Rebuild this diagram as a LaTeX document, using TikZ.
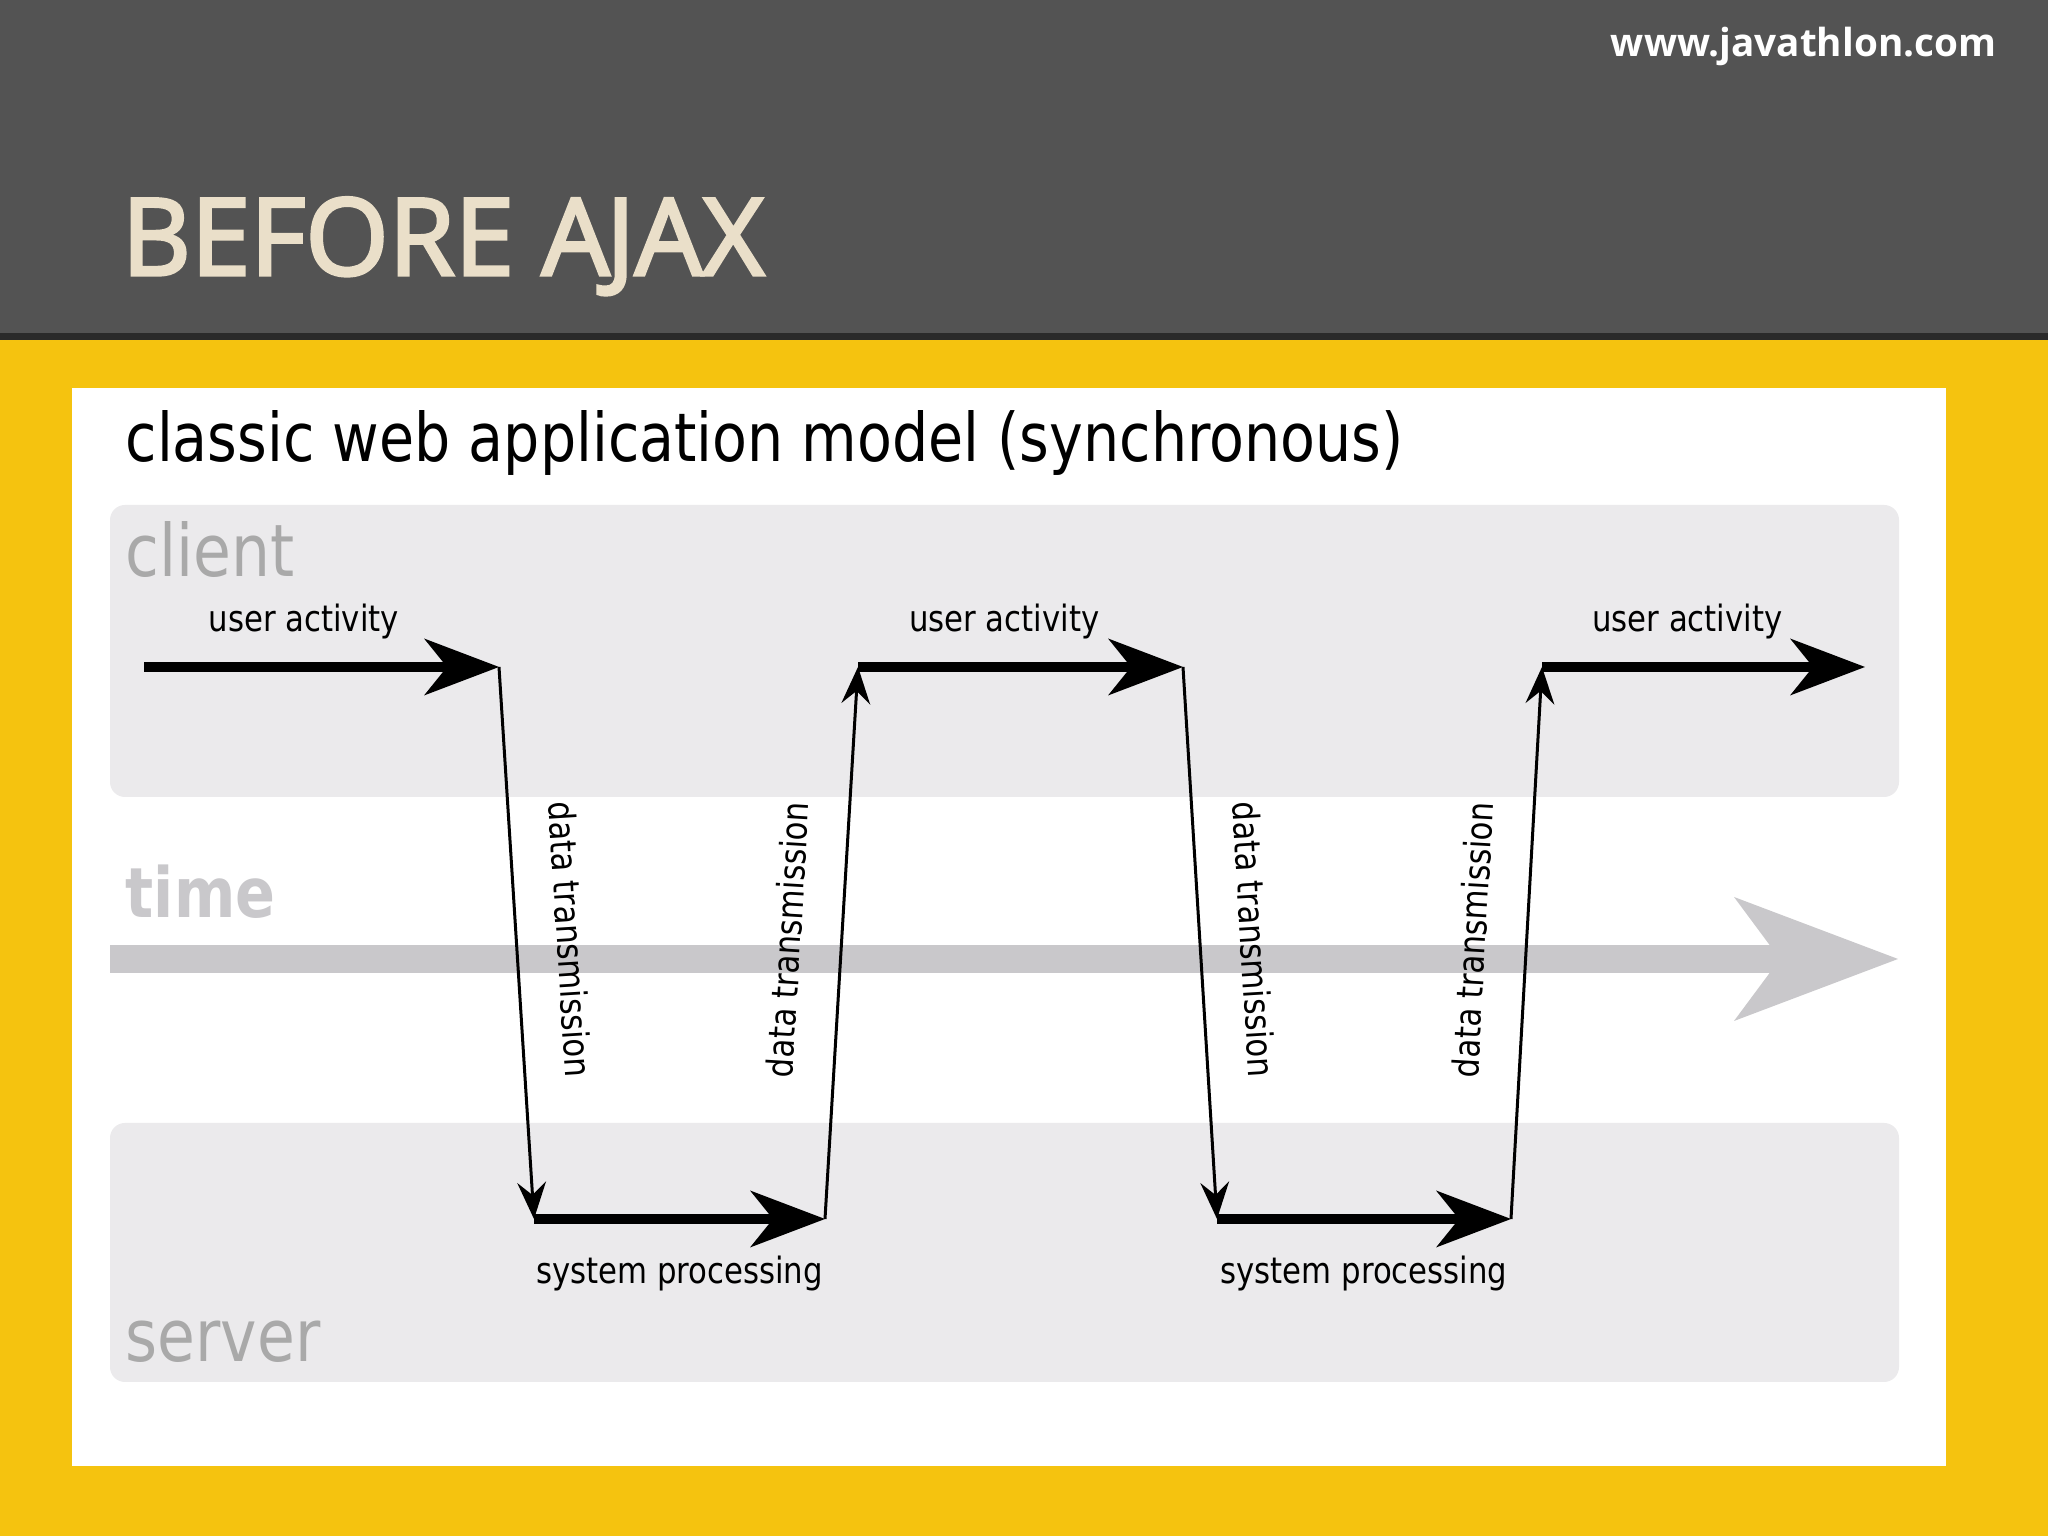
\documentclass[tikz,border=0pt]{standalone}
\usepackage{fontspec}
\setmainfont{Open Sans}
\newfontfamily\headfont[FakeBold=3]{Open Sans}
\newfontfamily\diafont[FakeStretch=0.85]{DejaVu Sans}
\usepackage{tikz}
\usepackage{xcolor}
\usetikzlibrary{arrows.meta}
\usetikzlibrary{positioning}

\definecolor{headgray}{HTML}{535353}
\definecolor{stripe}{HTML}{2A2A2A}
\definecolor{slideyellow}{HTML}{F5C30F}
\definecolor{beige}{HTML}{EADFC9}
\definecolor{boxgray}{HTML}{EBEAEC}
\definecolor{timegray}{HTML}{C9C8CB}
\definecolor{lanegray}{HTML}{A9A9A9}

\tikzset{
  bigarrow/.style={line width=0.1cm,-{Stealth[length=0.75cm,width=0.57cm,inset=0.23cm,line width=0pt]}},
  datarrow/.style={line width=0.03cm,-{Stealth[length=0.37cm,width=0.29cm,inset=0.13cm,line width=0pt]}},
  timearrow/.style={draw=timegray,line width=0.28cm,-{Stealth[length=1.64cm,width=1.24cm,inset=0.46cm,line width=0pt]}},
  small/.style={font=\diafont\fontsize{10.3}{12}\selectfont},
  lane/.style={font=\diafont\fontsize{20.6}{24}\selectfont,text=lanegray,anchor=base west,inner sep=0pt}
}

\begin{document}
\begin{tikzpicture}
\useasboundingbox (0,0) rectangle (20.48,15.36);

\fill[slideyellow] (0,0) rectangle (20.48,15.36);
\fill[headgray] (0,12.03) rectangle (20.48,15.36);
\fill[stripe] (0,11.96) rectangle (20.48,12.03);
\fill[white] (0.72,0.70) rectangle (19.46,11.48);
\fill[boxgray,rounded corners=0.15cm] (1.10,7.39) rectangle (18.99,10.31);
\fill[boxgray,rounded corners=0.15cm] (1.10,1.54) rectangle (18.99,4.13);

\node[anchor=base west,inner sep=0pt,text=beige,font=\headfont\fontsize{30.4}{35}\selectfont] (heading) at (1.21,12.61) {BEFORE A\kern-0.03em JAX};
\node[anchor=base east,inner sep=0pt,text=white,font=\bfseries\fontsize{11.0}{13}\selectfont] (site) at (19.97,14.79) {www.javathlon.com};

\node[anchor=base west,inner sep=0pt,font=\diafont\fontsize{19.1}{22}\selectfont] (model) at (1.25,10.74) {classic web application model (synchronous)};
\node[lane] (client) at (1.25,9.59) {client};
\node[lane] (server) at (1.25,1.74) {server};
\node[lane,text=timegray,font=\diafont\bfseries\fontsize{19.7}{23}\selectfont] (time) at (1.25,6.18) {time};

\coordinate (t0) at (1.10,5.77);
\coordinate (t1) at (18.98,5.77);
\draw[timearrow] (t0) -- (t1);

\coordinate (ua1s) at (1.44,8.69);
\coordinate (ua1e) at (4.99,8.69);
\coordinate (sp1s) at (5.34,3.17);
\coordinate (sp1e) at (8.25,3.17);
\coordinate (ua2s) at (8.58,8.69);
\coordinate (ua2e) at (11.83,8.69);
\coordinate (sp2s) at (12.17,3.17);
\coordinate (sp2e) at (15.11,3.17);
\coordinate (ua3s) at (15.42,8.69);
\coordinate (ua3e) at (18.65,8.69);

\foreach \a/\b in {ua1s/ua1e,ua2s/ua2e,ua3s/ua3e}
{
	\draw[bigarrow] (\a) -- node[pos=0.45,above=0.11cm,small] {user activity} (\b);
}
\foreach \a/\b in {sp1s/sp1e,sp2s/sp2e}
{
	\draw[bigarrow] (\a) -- node[midway,below=0.2cm,small] {system processing} (\b);
}
\foreach \a/\b in {ua1e/sp1s,sp1e/ua2s,ua2e/sp2s,sp2e/ua3s}
{
	\draw[datarrow] (\a) -- node[midway,sloped,above=0.27cm,small] {data transmission} (\b);
}
\end{tikzpicture}
\end{document}
